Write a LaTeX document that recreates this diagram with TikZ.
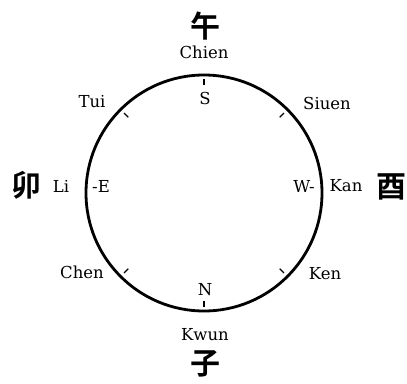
\documentclass[tikz,border=0pt]{standalone}
\usepackage{fontspec}
\setmainfont{DejaVu Serif}
\newfontfamily\cjk{Noto Sans CJK SC}[BoldFont={* Bold}]
\usetikzlibrary{calc}
\begin{document}
\begin{tikzpicture}[x=1pt,y=-1pt,
  lbl/.style={font=\fontsize{16.5}{18}\selectfont, inner sep=0pt},
  han/.style={font=\fontsize{30}{32}\selectfont\cjk\bfseries, inner sep=0pt},
  ring/.style={draw, circle, line width=2.8pt, minimum size=236pt, inner sep=0pt},
  tickmark/.style={line width=1.1pt}]
\useasboundingbox (0,0) rectangle (407,383);
\node[ring] (c) at (204,193) {};
% ticks
\foreach \a in {45,135,225,315}{
  \draw[tickmark] ($(c.center)+(\a:107)$) -- ($(c.center)+(\a:113)$);
}
\draw[tickmark] ($(c.center)+(90:108)$) -- ($(c.center)+(90:114)$);
\draw[tickmark] ($(c.center)+(-90:108)$) -- ($(c.center)+(-90:114)$);
% labels
\node[han] (wu) at (205,26) {午};
\node[lbl] (chien) at (204,52) {Chien};
\node[lbl] (s) at (205,98) {S};
\node[lbl] (tui) at (92,102) {Tui};
\node[lbl] (siuen) at (327,103) {Siuen};
\node[han] (mao) at (27,185) {卯};
\node[lbl] (li) at (61,186) {Li};
\node[lbl] (e) at (101,186) {-E};
\node[lbl] (w) at (304,186) {W-};
\node[lbl] (kan) at (346,186) {Kan};
\node[han] (you) at (391,187) {酉};
\node[lbl] (chen) at (82,272) {Chen};
\node[lbl] (ken) at (325,274) {Ken};
\node[lbl] (n) at (205,290) {N};
\node[lbl] (kwun) at (205,335) {Kwun};
\node[han] (zi) at (205,364) {子};
\end{tikzpicture}
\end{document}
